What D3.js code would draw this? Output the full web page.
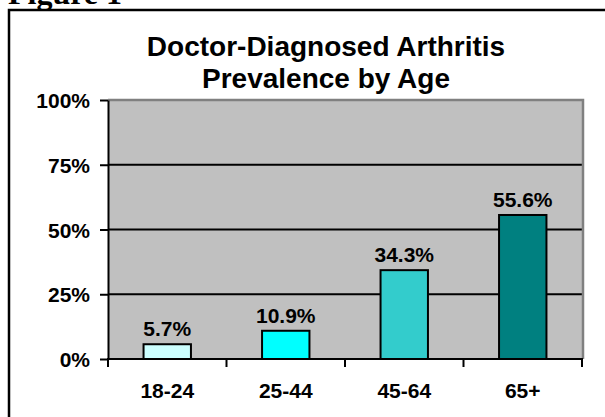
<!DOCTYPE html>
<html>
<head>
<meta charset="utf-8">
<script src="https://cdn.jsdelivr.net/npm/d3@7"></script>
<style>
  body { margin: 0; background: #fff; }
  svg text { font-family: "Liberation Sans", Arial, sans-serif; font-weight: bold; fill: #000; }
</style>
</head>
<body>
<div id="chart"></div>
<script>
// data
var ageGroups = ["18-24", "25-44", "45-64", "65+"];
var prevalence = [5.7, 10.9, 34.3, 55.6];
var barColors = ["#ccffff", "#00ffff", "#33cccc", "#008080"];
var yTicks = [0, 25, 50, 75, 100];
var titleLines = ["Doctor-Diagnosed Arthritis", "Prevalence by Age"];

var W = 605, H = 417;
var plot = {left: 108, right: 582, top: 100, bottom: 359};

var svg = d3.select("#chart").append("svg")
  .attr("width", W).attr("height", H);

// figure caption, cut at top like the scan
svg.append("text")
  .attr("x", 8).attr("y", 4)
  .style("font-family", "'Liberation Serif', 'Times New Roman', serif")
  .style("font-size", "32px")
  .text("Figure 1");

// outer frame (runs off right and bottom)
svg.append("rect")
  .attr("x", 9).attr("y", 10)
  .attr("width", 620).attr("height", 430)
  .attr("fill", "none").attr("stroke", "#000").attr("stroke-width", 2.5);

// title
svg.append("g").selectAll("text")
  .data(titleLines).enter().append("text")
  .attr("x", 326)
  .attr("y", function(d, i) { return 56 + i * 32; })
  .attr("text-anchor", "middle")
  .style("font-size", "28px")
  .text(function(d) { return d; });

var x = d3.scaleBand()
  .domain(ageGroups)
  .range([plot.left, plot.right])
  .paddingInner(0.6)
  .paddingOuter(0.3);

var y = d3.scaleLinear()
  .domain([0, 100])
  .range([plot.bottom, plot.top]);

// plot background
svg.append("rect")
  .attr("x", plot.left).attr("y", plot.top)
  .attr("width", plot.right - plot.left)
  .attr("height", plot.bottom - plot.top)
  .attr("fill", "#c0c0c0");

// grid lines
svg.append("g").selectAll("line")
  .data(yTicks.filter(function(t) { return t > 0 && t < 100; }))
  .enter().append("line")
  .attr("x1", plot.left).attr("x2", plot.right)
  .attr("y1", function(d) { return y(d); })
  .attr("y2", function(d) { return y(d); })
  .attr("stroke", "#000").attr("stroke-width", 2);

// gray top / right plot border
svg.append("path")
  .attr("d", "M" + plot.left + "," + y(100) + "H" + (plot.right + 1) + "V" + plot.bottom)
  .attr("fill", "none").attr("stroke", "#808080").attr("stroke-width", 2.5);

// bars
svg.append("g").selectAll("rect")
  .data(prevalence).enter().append("rect")
  .attr("x", function(d, i) { return x(ageGroups[i]); })
  .attr("y", function(d) { return y(d); })
  .attr("width", x.bandwidth())
  .attr("height", function(d) { return y(0) - y(d); })
  .attr("fill", function(d, i) { return barColors[i]; })
  .attr("stroke", "#000").attr("stroke-width", 2);

// value labels
svg.append("g").selectAll("text")
  .data(prevalence).enter().append("text")
  .attr("x", function(d, i) { return x(ageGroups[i]) + x.bandwidth() / 2; })
  .attr("y", function(d) { return y(d) - 8; })
  .attr("text-anchor", "middle")
  .style("font-size", "21px")
  .text(function(d) { return d.toFixed(1) + "%"; });

// y axis
var yAxis = svg.append("g")
  .attr("transform", "translate(" + plot.left + ",0)")
  .call(d3.axisLeft(y).tickValues(yTicks).tickSize(8).tickSizeOuter(0)
    .tickFormat(function(d) { return d + "%"; }));
yAxis.selectAll("line, path").attr("stroke", "#000").attr("stroke-width", 2);
yAxis.selectAll("text")
  .attr("x", -18).attr("dy", "0.36em")
  .style("font-size", "21px")
  .style("font-family", "'Liberation Sans', Arial, sans-serif");

// x axis with ticks between categories
var xAxisG = svg.append("g");
xAxisG.append("line")
  .attr("x1", plot.left - 1).attr("x2", plot.right + 1)
  .attr("y1", plot.bottom).attr("y2", plot.bottom)
  .attr("stroke", "#000").attr("stroke-width", 2);
var bounds = ageGroups.map(function(g) { return x(g) - x.step() * x.paddingInner() / 2; });
bounds[0] = plot.left;
bounds.push(plot.right);
xAxisG.selectAll("line.tick")
  .data(bounds).enter().append("line")
  .attr("class", "tick")
  .attr("x1", function(d) { return d; }).attr("x2", function(d) { return d; })
  .attr("y1", plot.bottom).attr("y2", plot.bottom + 8)
  .attr("stroke", "#000").attr("stroke-width", 2);
xAxisG.selectAll("text")
  .data(ageGroups).enter().append("text")
  .attr("x", function(d) { return x(d) + x.bandwidth() / 2; })
  .attr("y", 398)
  .attr("text-anchor", "middle")
  .style("font-size", "21px")
  .text(function(d) { return d; });
</script>
</body>
</html>
